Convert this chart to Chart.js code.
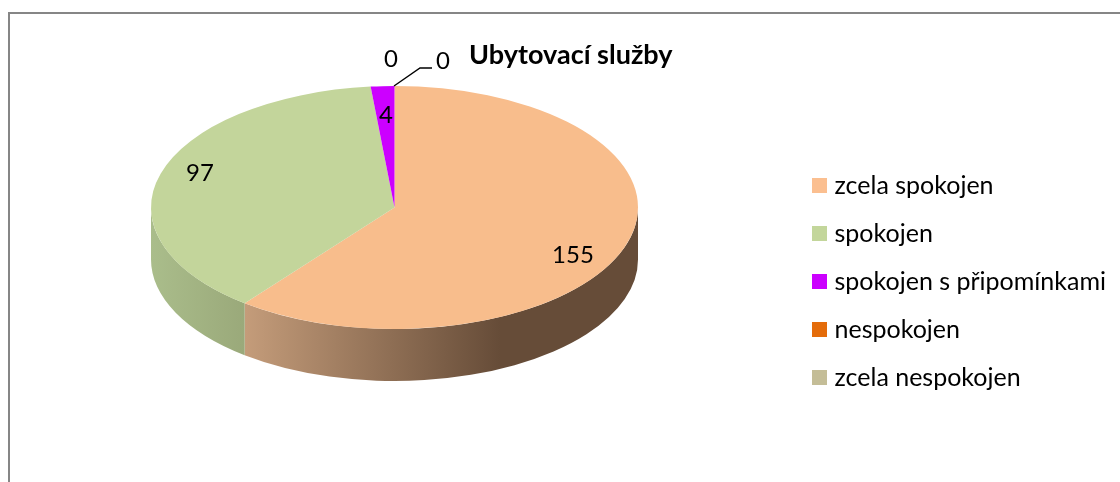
<!DOCTYPE html>
<html>
<head>
<meta charset="utf-8">
<style>html,body{margin:0;padding:0;background:#fff}canvas{display:block}</style>
<script src="https://cdn.jsdelivr.net/npm/chart.js@4"></script>
</head>
<body>
<canvas id="c" width="1120" height="482"></canvas>
<script>
const titleText = 'Ubytovací služby';
const categories = ['zcela spokojen', 'spokojen', 'spokojen s připomínkami', 'nespokojen', 'zcela nespokojen'];
const values = [155, 97, 4, 0, 0];
const colors = ['#F8BD8C', '#C3D59B', '#CC00FF', '#E46C0A', '#C4BD97'];
const legendColors = ['#FBBF90', '#C3D69B', '#CC00FF', '#E46C0A', '#C4BD97'];
// label anchors: [value index, x, y]
const labelPlaces = [[0, 573, 255], [1, 200, 173], [2, 386, 115], [3, 391, 59], [4, 443, 61]];
const FONT = 'Lato, Carlito, sans-serif';

const CX = 394.5, CY = 207.5, RX = 243.5, RY = 121.5, DEPTH = 52;
const sideStops = {
  0: {from: 245, to: 500, c0: '#C49C7A', c1: '#664C38'},
  1: {from: 151, to: 245, c0: '#AABD8B', c1: '#9AA97A'}
};

const swatches = legendColors.map(col => {
  const s = document.createElement('canvas');
  s.width = 15; s.height = 15;
  const g = s.getContext('2d');
  g.fillStyle = col; g.fillRect(0, 0, 15, 15);
  return s;
});

const pie3d = {
  id: 'pie3d',
  beforeDraw(chart) {
    const ctx = chart.ctx;
    ctx.save();
    ctx.fillStyle = '#fff';
    ctx.fillRect(0, 0, chart.width, chart.height);
    ctx.strokeStyle = '#868686';
    ctx.lineWidth = 2;
    ctx.beginPath();
    ctx.moveTo(9, 482); ctx.lineTo(9, 13); ctx.lineTo(1120, 13);
    ctx.stroke();
    ctx.restore();
  },
  afterLayout(chart) {
    const a = chart.chartArea;
    a.left = CX - RY; a.right = CX + RY; a.top = CY - RY; a.bottom = CY + RY;
    a.width = RY * 2; a.height = RY * 2;
    const l = chart.legend;
    const lw = l.right - l.left, lh = l.bottom - l.top;
    l.left = 794; l.right = 794 + lw; l.top = 150; l.bottom = 150 + Math.max(lh, 300);
    const t = chart.titleBlock;
    t.left = 469; t.right = 800; t.top = 39; t.bottom = 72;
  },
  beforeDatasetsDraw(chart) {
    const ctx = chart.ctx;
    const arcs = chart.getDatasetMeta(0).data;
    arcs.forEach((arc, i) => {
      const st = sideStops[i];
      if (!st) return;
      const a0 = Math.max(arc.startAngle, 0), a1 = Math.min(arc.endAngle, Math.PI);
      if (a1 <= a0) return;
      const g = ctx.createLinearGradient(st.from, 0, st.to, 0);
      g.addColorStop(0, st.c0); g.addColorStop(1, st.c1);
      ctx.fillStyle = g;
      ctx.beginPath();
      ctx.ellipse(CX, CY, RX, RY, 0, a0, a1);
      ctx.ellipse(CX, CY + DEPTH, RX, RY, 0, a1, a0, true);
      ctx.closePath();
      ctx.fill();
    });
    ctx.save();
    ctx.translate(CX, 0);
    ctx.scale(RX / RY, 1);
    ctx.translate(-CX, 0);
  },
  afterDatasetsDraw(chart) {
    const ctx = chart.ctx;
    ctx.restore();
    ctx.save();
    ctx.strokeStyle = '#000';
    ctx.lineWidth = 1.4;
    ctx.beginPath();
    ctx.moveTo(394, 86); ctx.lineTo(420, 68); ctx.lineTo(432, 68);
    ctx.stroke();
    ctx.fillStyle = '#000';
    ctx.font = '24px ' + FONT;
    ctx.textAlign = 'center';
    ctx.textBaseline = 'middle';
    labelPlaces.forEach(([i, x, y]) => ctx.fillText(String(values[i]), x, y));
    ctx.restore();
  }
};

new Chart(document.getElementById('c'), {
  type: 'pie',
  plugins: [pie3d],
  data: {
    labels: categories,
    datasets: [{data: values, backgroundColor: colors, borderWidth: 0, clip: false}]
  },
  options: {
    responsive: false,
    animation: false,
    layout: {padding: 0},
    plugins: {
      tooltip: {enabled: false},
      title: {
        display: true,
        text: titleText,
        align: 'start',
        color: '#000',
        padding: 0,
        font: {family: FONT, size: 27, weight: 'bold'}
      },
      legend: {
        position: 'right',
        align: 'start',
        labels: {
          usePointStyle: true,
          pointStyleWidth: 5,
          padding: 23,
          color: '#000',
          font: {family: FONT, size: 25},
          generateLabels: () => categories.map((text, i) => ({
            text, index: i, hidden: false, fillStyle: legendColors[i],
            strokeStyle: legendColors[i], lineWidth: 0, pointStyle: swatches[i]
          }))
        }
      }
    }
  }
});
</script>
</body>
</html>
